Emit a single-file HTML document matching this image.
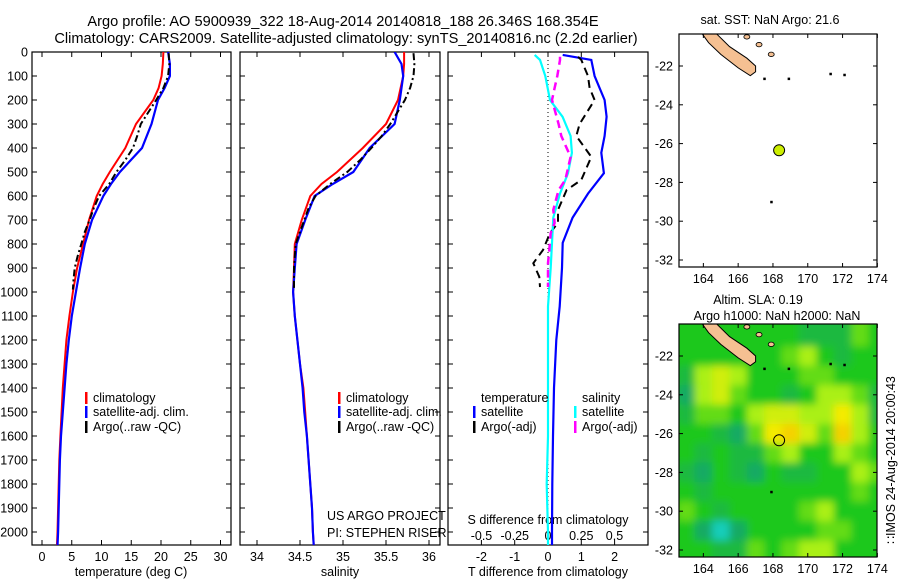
<!DOCTYPE html>
<html><head><meta charset="utf-8">
<style>
html,body{margin:0;padding:0;background:#fff;}
svg{display:block;font-family:"Liberation Sans",sans-serif;}
text{font-size:12.5px;fill:#000;}
</style></head>
<body>
<svg id="chart" width="900" height="580" viewBox="0 0 900 580" xmlns="http://www.w3.org/2000/svg">
<defs>
<clipPath id="c1"><rect x="32" y="52" width="199" height="493"/></clipPath>
<clipPath id="c2"><rect x="240" y="52" width="200" height="493"/></clipPath>
<clipPath id="c3"><rect x="448" y="52" width="200" height="493"/></clipPath>
<clipPath id="cm1"><rect x="679" y="34" width="198" height="233"/></clipPath>
<clipPath id="cm2"><rect x="679" y="324" width="198" height="233"/></clipPath>
<filter id="blur" x="-5%" y="-5%" width="110%" height="110%"><feGaussianBlur stdDeviation="4"/></filter>
</defs>
<text x="343" y="26" text-anchor="middle" style="font-size:14.6px">Argo profile: AO 5900939_322 18-Aug-2014 20140818_188 26.346S 168.354E</text>
<text x="346" y="43" text-anchor="middle" style="font-size:14.6px">Climatology: CARS2009. Satellite-adjusted climatology: synTS_20140816.nc (2.2d earlier)</text>
<g id="g"></g>
</svg>
<script>
// ---- data ----
const depthClim = [0,50,100,150,200,300,400,500,550,600,700,800,900,1000,1100,1200,1300,1400,1500,1600,1700,1800,1900,2000,2060];
const tempClim = [20.4,20.3,20.1,19.6,18.7,15.8,14.0,11.4,10.2,9.2,7.9,6.9,5.9,5.2,4.6,4.1,3.8,3.5,3.3,3.1,2.9,2.8,2.7,2.6,2.5];
const tempSat  = [21.2,21.5,21.5,20.6,19.5,18.4,16.8,13.1,11.6,10.3,8.4,7.2,6.4,5.7,5.0,4.5,4.1,3.8,3.5,3.2,3.0,2.9,2.8,2.7,2.6];
const salClim = [35.71,35.71,35.70,35.67,35.64,35.50,35.23,34.93,34.75,34.62,34.52,34.44,34.43,34.42,34.44,34.47,34.50,34.54,34.56,34.58,34.60,34.62,34.64,34.65,34.66];
const salSat  = [35.60,35.68,35.70,35.68,35.66,35.60,35.31,35.12,34.88,34.67,34.56,34.46,34.44,34.42,34.44,34.47,34.50,34.53,34.55,34.58,34.60,34.62,34.64,34.65,34.66];
const depthArgo = [5,50,100,150,200,300,350,400,450,500,550,600,650,700,750,800,850,900,950,990];
const tempArgo = [21.3,21.4,21.2,20.4,19.2,16.6,16.0,15.3,14.0,12.5,11.3,9.6,8.7,8.0,7.2,6.6,6.0,5.5,5.3,5.2];
const salArgo  = [35.82,35.83,35.82,35.78,35.72,35.55,35.45,35.33,35.20,35.05,34.85,34.68,34.60,34.55,34.50,34.45,34.44,34.43,34.43,34.43];
const depthDiff = [12,33,100,200,270,350,420,505,590,690,795,900,1060,1200,1400,1600,1800,2000,2060];
const tDiffSat = [0.44,1.3,1.4,1.7,1.76,1.7,1.6,1.68,1.2,0.74,0.44,0.42,0.35,0.25,0.18,0.15,0.13,0.12,0.12];
const sDiffSat = [-0.10,-0.06,-0.02,0.015,0.11,0.17,0.18,0.15,0.09,0.04,0.03,0.02,0.0,0.0,0.0,0.0,-0.01,0.0,0.0];
const depthDiffArgo = [20,33,100,150,200,300,350,437,533,575,658,712,754,825,880,937,979];
const tDiffArgo = [0.9,1.0,1.2,1.25,1.4,0.95,0.85,1.3,1.0,0.56,0.3,0.3,0.06,-0.15,-0.44,-0.26,-0.24];
const sDiffArgo = [0.09,0.09,0.07,0.05,0.03,0.08,0.10,0.17,0.13,0.08,0.04,0.05,0.02,0.01,0.0,0.0,0.0];
const depthTicks = [0,100,200,300,400,500,600,700,800,900,1000,1100,1200,1300,1400,1500,1600,1700,1800,1900,2000];
const tempTicks = [0,5,10,15,20,25,30];
const salTicks = [34,34.5,35,35.5,36];
const salTickLabels = ["34","34.5","35","35.5","36"];
const tDiffTicks = [-2,-1,0,1,2];
const sDiffTicks = [-0.5,-0.25,0,0.25,0.5];
const sDiffTickLabels = ["-0.5","-0.25","0","0.25","0.5"];
const lonTicks = [164,166,168,170,172,174];
const latTicks = [-22,-24,-26,-28,-30,-32];
const argoLon = 168.354, argoLat = -26.346;
const slaLons = [163,164,165,166,167,168,169,170,171,172,173,174];
const slaLats = [-20,-21,-22,-23,-24,-25,-26,-27,-28,-29,-30,-31,-32,-33];
const slaGrid = [
 [0,0,0,0,0,0,0,-0.5,-0.5,-0.5,0.5,0],
 [0,0,0,0,0,0,0,-0.5,-0.5,-0.5,0.5,0],
 [0,0,0,0,0,0,0.5,1,0,-0.5,0,0],
 [-0.5,1,1.5,1,0,0,0,0.5,0.5,0,0,0],
 [-1,1,1.5,0.5,0,0,-0.5,0,1,1,0.5,-0.5],
 [-0.5,0.5,0.5,0,1,1.5,1.5,1,1,2,1,-0.5],
 [0,0,-0.5,-1,0.5,2,2.5,1.5,0.5,2.5,1,0],
 [0,-0.5,0,-0.5,-0.5,0.5,1,0,0,1,0.5,0],
 [-0.5,-1,0,-0.5,-1,0,-0.5,-0.5,0,0,1,0.5],
 [0,-0.5,0,0,0,0,0,0,0,0,0.5,0],
 [0.5,0,-0.5,0,0,0,0,0.5,1,0,0,0],
 [0,-1,-2,-1,0,0,0,0,0.5,0.5,0,0],
 [0,0,-0.5,-0.5,0.5,0,0.5,1,1,0,0,0],
 [0,0,-0.5,-0.5,0.5,0,0.5,1,1,0,0,0]
];
const landLon = [164.0,164.6,165.5,166.5,167.0,167.0,166.7,166.0,165.0,164.3,163.9];
const landLat = [-20.2,-20.2,-21.0,-21.6,-22.0,-22.3,-22.5,-22.1,-21.4,-20.8,-20.3];
const islandLon = [167.2,167.9,166.5];
const islandLat = [-20.9,-21.4,-20.5];
const dotLon = [167.5,168.9,171.3,172.1,167.9];
const dotLat = [-22.65,-22.65,-22.4,-22.45,-29.0];

// ---- scales ----
const NS="http://www.w3.org/2000/svg";
const G=document.getElementById('g');
function el(tag,attrs,parent){const e=document.createElementNS(NS,tag);for(const k in attrs)e.setAttribute(k,attrs[k]);(parent||G).appendChild(e);return e;}
const yD=d=>52+d*0.24;
const xT=t=>42+t*5.95;
const xS=s=>257+(s-34)*86;
const xTd=t=>548+t*33.3;
const xSd=s=>548+s*133;
const mx=lon=>679+(lon-162.6)*17.4;
const my1=lat=>66+(-22-lat)*19.4;
const my2=lat=>356+(-22-lat)*19.4;

function line(xs,ys,xf,color,w,dash,clip,name){
  const pts=xs.map((v,i)=>xf(v).toFixed(1)+','+yD(ys[i]).toFixed(1)).join(' ');
  const p=el('polyline',{points:pts,fill:'none',stroke:color,'stroke-width':w,'clip-path':'url(#'+clip+')'});
  if(dash)p.setAttribute('stroke-dasharray',dash);
  
  
}
function box(x,y,w,h,name){
  const r=el('rect',{x:x,y:y,width:w,height:h,fill:'none',stroke:'#000','stroke-width':1.2});
  
  
}
function txt(x,y,s,anchor,name,extra){
  const t=el('text',Object.assign({x:x,y:y,'text-anchor':anchor||'start'},extra||{}));
  t.textContent=s;
  
  
  return t;
}
function tick(x1,y1,x2,y2){el('line',{x1:x1,y1:y1,x2:x2,y2:y2,stroke:'#000','stroke-width':1});}

const panels=[{x:32,w:199},{x:240,w:200},{x:448,w:200}];
panels.forEach((p,i)=>{
  box(p.x,52,p.w,493,'profile-panel-'+(i+1));
  depthTicks.forEach(d=>{tick(p.x,yD(d),p.x+5,yD(d));tick(p.x+p.w,yD(d),p.x+p.w-5,yD(d));});
});
depthTicks.forEach(d=>txt(28,yD(d)+4.5,String(d),'end','depth-tick-label'));
tempTicks.forEach(t=>{tick(xT(t),52,xT(t),57);tick(xT(t),545,xT(t),540);txt(xT(t),561,String(t),'middle','temp-tick-label');});
salTicks.forEach((s,i)=>{tick(xS(s),52,xS(s),57);tick(xS(s),545,xS(s),540);txt(xS(s),561,salTickLabels[i],'middle','salinity-tick-label');});
tDiffTicks.forEach(t=>{tick(xTd(t),52,xTd(t),57);tick(xTd(t),545,xTd(t),540);txt(xTd(t),561,String(t),'middle','tdiff-tick-label');});
sDiffTicks.forEach((s,i)=>{txt(xSd(s),540,sDiffTickLabels[i],'middle','sdiff-tick-label');});
txt(131,576,'temperature (deg C)','middle','x-axis-title-temperature');
txt(340,576,'salinity','middle','x-axis-title-salinity');
txt(548,576,'T difference from climatology','middle','x-axis-title-tdiff');
txt(548,524,'S difference from climatology','middle','s-diff-axis-title');
const z=el('line',{x1:xTd(0),y1:52,x2:xTd(0),y2:545,stroke:'#000','stroke-width':1,'stroke-dasharray':'1,3'});


line(tempClim,depthClim,xT,'#f00',2,null,'c1','temp-climatology-line');
line(tempSat,depthClim,xT,'#00f',2.2,null,'c1','temp-satellite-line');
line(tempArgo,depthArgo,xT,'#000',2,'7,3,2,3','c1','temp-argo-line');
line(salClim,depthClim,xS,'#f00',2,null,'c2','salinity-climatology-line');
line(salSat,depthClim,xS,'#00f',2.2,null,'c2','salinity-satellite-line');
line(salArgo,depthArgo,xS,'#000',2,'7,3,2,3','c2','salinity-argo-line');
line(tDiffSat,depthDiff,xTd,'#00f',2.2,null,'c3','tdiff-satellite-line');
line(tDiffArgo,depthDiffArgo,xTd,'#000',2,'8,5','c3','tdiff-argo-line');
line(sDiffSat,depthDiff,xSd,'#0ff',2.2,null,'c3','sdiff-satellite-line');
line(sDiffArgo,depthDiffArgo,xSd,'#f0f',2.5,'8,5','c3','sdiff-argo-line');

function leg(x,y,c,s,name){const r=el('rect',{x:x,y:y-10,width:2.5,height:12,fill:c});txt(x+8,y,s,'start',name);}
leg(85,402,'#f00','climatology','legend-climatology');
leg(85,416,'#00f','satellite-adj. clim.','legend-satellite-adj');
leg(85,431,'#000','Argo(..raw -QC)','legend-argo');
leg(338,402,'#f00','climatology','legend2-climatology');
leg(338,416,'#00f','satellite-adj. clim.','legend2-satellite-adj');
leg(338,431,'#000','Argo(..raw -QC)','legend2-argo');
txt(481,402,'temperature','start','legend-temperature-header');
txt(582,402,'salinity','start','legend-salinity-header');
leg(473,416,'#00f','satellite','legend-t-satellite');
leg(473,431,'#000','Argo(-adj)','legend-t-argo');
leg(574,416,'#0ff','satellite','legend-s-satellite');
leg(574,431,'#f0f','Argo(-adj)','legend-s-argo');
txt(327,520,'US ARGO PROJECT','start','project-label');
txt(327,537,'PI: STEPHEN RISER','start','pi-label');

function land(myf,clip,pref){
  const pts=landLon.map((l,i)=>mx(l).toFixed(1)+','+myf(landLat[i]).toFixed(1)).join(' ');
  const p=el('polygon',{points:pts,fill:'#f5c092',stroke:'#000','stroke-width':1,'clip-path':'url(#'+clip+')'});
  
  islandLon.forEach((l,i)=>{const e=el('ellipse',{cx:mx(l),cy:myf(islandLat[i]),rx:3,ry:2.2,fill:'#f5c092',stroke:'#000','stroke-width':0.8,'clip-path':'url(#'+clip+')'});});
  dotLon.forEach((l,i)=>{const e=el('rect',{x:mx(l)-1,y:myf(dotLat[i])-1,width:2.5,height:2.5,fill:'#000'});});
}
function slaColor(v){
  const stops=[[-2,[20,205,185]],[-1,[25,170,100]],[0,[30,200,30]],[1,[170,240,20]],[2,[245,235,0]],[3,[245,185,0]]];
  if(v<=stops[0][0])return 'rgb('+stops[0][1]+')';
  for(let i=1;i<stops.length;i++){if(v<=stops[i][0]){const a=stops[i-1],b=stops[i],f=(v-a[0])/(b[0]-a[0]);return 'rgb('+a[1].map((c,k)=>Math.round(c+(b[1][k]-c)*f)).join(',')+')';}}
  return 'rgb('+stops[5][1]+')';
}
const hg=el('g',{'clip-path':'url(#cm2)'});
const hb=el('g',{filter:'url(#blur)'},hg);
el('rect',{x:660,y:300,width:240,height:280,fill:slaColor(0)},hb);
slaLats.forEach((lat,r)=>slaLons.forEach((lon,c)=>{
  const cell=el('rect',{x:mx(lon-0.5),y:my2(lat+0.5),width:17.6,height:19.6,fill:slaColor(slaGrid[r][c])},hb);
  
  
}));
land(my1,'cm1','map1');
land(my2,'cm2','map2');
box(679,34,198,233,'sst-map-frame');
box(679,324,198,233,'sla-map-frame');
[[my1,34,267,283],[my2,324,557,573]].forEach(([myf,top,bot,ly])=>{
  lonTicks.forEach(l=>{tick(mx(l),top,mx(l),top+4);tick(mx(l),bot,mx(l),bot-4);txt(mx(l),ly,String(l),'middle','lon-tick-label');});
  latTicks.forEach(l=>{tick(679,myf(l),683,myf(l));tick(877,myf(l),873,myf(l));txt(673,myf(l)+4.5,String(l),'end','lat-tick-label');});
});
const a1=el('circle',{cx:mx(argoLon),cy:my1(argoLat),r:5.5,fill:'#ccee00',stroke:'#000','stroke-width':1});


const a2=el('circle',{cx:mx(argoLon),cy:my2(argoLat),r:5.5,fill:'none',stroke:'#000','stroke-width':1});


txt(770,24,'sat. SST: NaN Argo: 21.6','middle','sst-map-title');
txt(758,304,'Altim. SLA: 0.19','middle','sla-map-title-1');
txt(777,320,'Argo h1000: NaN h2000: NaN','middle','sla-map-title-2');
txt(0,0,'\u2237IMOS 24-Aug-2014 20:00:43','middle','imos-timestamp',{transform:'translate(895,460) rotate(-90)'});
</script>
</body></html>
